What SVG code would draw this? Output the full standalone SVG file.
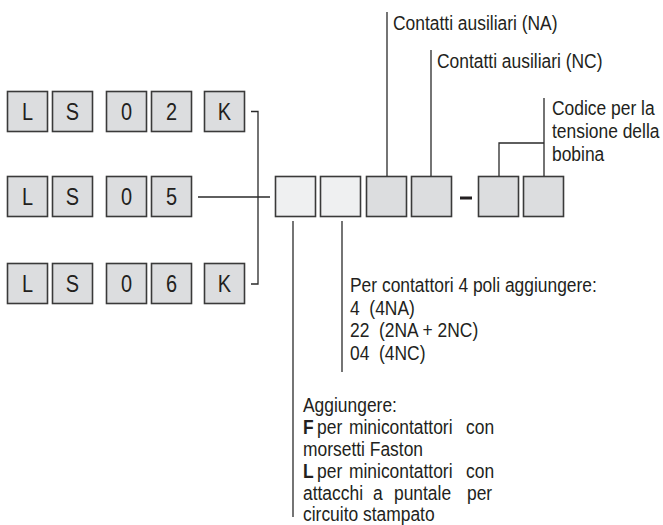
<svg xmlns="http://www.w3.org/2000/svg" width="663" height="525" viewBox="0 0 663 525">
<style>
text{font-family:"Liberation Sans",Arial,sans-serif;fill:#231f20}
.t{font-size:21px}
.b{font-size:24px;text-anchor:middle}
.box{fill:#dcdddf;stroke:#3a3a3a;stroke-width:1.6}
.lt{fill:#eff0f1}
.ln{fill:none;stroke:#2a2a2a;stroke-width:1.3}
</style>
<rect width="663" height="525" fill="#fff"/>
<g id="row1">
<rect class="box" x="7.5" y="91.5" width="40" height="40"/><text class="b" transform="translate(27.5,120) scale(.83,1)">L</text>
<rect class="box" x="52.5" y="91.5" width="40" height="40"/><text class="b" transform="translate(72.5,120) scale(.83,1)">S</text>
<rect class="box" x="106.5" y="91.5" width="40" height="40"/><text class="b" transform="translate(126.5,120) scale(.83,1)">0</text>
<rect class="box" x="151.5" y="91.5" width="40" height="40"/><text class="b" transform="translate(171.5,120) scale(.83,1)">2</text>
<rect class="box" x="204.5" y="91.5" width="40" height="40"/><text class="b" transform="translate(224.5,120) scale(.83,1)">K</text>
</g>
<g id="row2">
<rect class="box" x="7.5" y="176.5" width="40" height="40"/><text class="b" transform="translate(27.5,205) scale(.83,1)">L</text>
<rect class="box" x="52.5" y="176.5" width="40" height="40"/><text class="b" transform="translate(72.5,205) scale(.83,1)">S</text>
<rect class="box" x="106.5" y="176.5" width="40" height="40"/><text class="b" transform="translate(126.5,205) scale(.83,1)">0</text>
<rect class="box" x="151.5" y="176.5" width="40" height="40"/><text class="b" transform="translate(171.5,205) scale(.83,1)">5</text>
</g>
<g id="row3">
<rect class="box" x="7.5" y="263.5" width="40" height="40"/><text class="b" transform="translate(27.5,292) scale(.83,1)">L</text>
<rect class="box" x="52.5" y="263.5" width="40" height="40"/><text class="b" transform="translate(72.5,292) scale(.83,1)">S</text>
<rect class="box" x="106.5" y="263.5" width="40" height="40"/><text class="b" transform="translate(126.5,292) scale(.83,1)">0</text>
<rect class="box" x="151.5" y="263.5" width="40" height="40"/><text class="b" transform="translate(171.5,292) scale(.83,1)">6</text>
<rect class="box" x="204.5" y="263.5" width="40" height="40"/><text class="b" transform="translate(224.5,292) scale(.83,1)">K</text>
</g>
<g id="code">
<rect class="box lt" x="275.5" y="176.5" width="40" height="40"/>
<rect class="box lt" x="320.5" y="176.5" width="40" height="40"/>
<rect class="box" x="366.5" y="176.5" width="40" height="40"/>
<rect class="box" x="411.5" y="176.5" width="40" height="40"/>
<rect x="460" y="196.5" width="12" height="3" fill="#231f20"/>
<rect class="box" x="478.5" y="176.5" width="40" height="40"/>
<rect class="box" x="523.5" y="176.5" width="40" height="40"/>
</g>
<g id="connectors">
<path class="ln" d="M251,111.5 H258 V284 H251"/>
<path class="ln" d="M198,197 H270"/>
<path class="ln" d="M387,12 V176"/>
<path class="ln" d="M431,50 V176"/>
<path class="ln" d="M544,98 V176 M499,176 V143 H544"/>
<path class="ln" d="M293,221 V517"/>
<path class="ln" d="M342,221 V372"/>
</g>
<g id="label-na"><text class="t" transform="translate(393,30) scale(.83,1)">Contatti ausiliari (NA)</text></g>
<g id="label-nc"><text class="t" transform="translate(437,68) scale(.83,1)">Contatti ausiliari (NC)</text></g>
<g id="label-coil">
<text class="t" transform="translate(552,115) scale(.83,1)">Codice per la</text>
<text class="t" transform="translate(552,138) scale(.83,1)">tensione della</text>
<text class="t" transform="translate(552,161) scale(.83,1)">bobina</text>
</g>
<g id="label-poles">
<text class="t" transform="translate(350,292) scale(.83,1)">Per contattori 4 poli aggiungere:</text>
<text class="t" transform="translate(350,315) scale(.83,1)" xml:space="preserve">4  (4NA)</text>
<text class="t" transform="translate(350,337) scale(.83,1)" xml:space="preserve">22  (2NA + 2NC)</text>
<text class="t" transform="translate(350,360) scale(.83,1)" xml:space="preserve">04  (4NC)</text>
</g>
<g id="label-add">
<text class="t" transform="translate(303,412) scale(.83,1)">Aggiungere:</text>
<text class="t" transform="translate(303,434) scale(.83,1)"><tspan x="0" font-weight="bold">F</tspan><tspan x="16.9">per</tspan><tspan x="55.4">minicontattori</tspan><tspan x="196.4">con</tspan></text>
<text class="t" transform="translate(303,456) scale(.83,1)">morsetti Faston</text>
<text class="t" transform="translate(303,478) scale(.83,1)"><tspan x="0" font-weight="bold">L</tspan><tspan x="16.9">per</tspan><tspan x="55.4">minicontattori</tspan><tspan x="196.4">con</tspan></text>
<text class="t" transform="translate(303,500) scale(.83,1)"><tspan x="0">attacchi</tspan><tspan x="84.3">a</tspan><tspan x="109.6">puntale</tspan><tspan x="197.6">per</tspan></text>
<text class="t" transform="translate(303,521) scale(.83,1)">circuito stampato</text>
</g>
</svg>
